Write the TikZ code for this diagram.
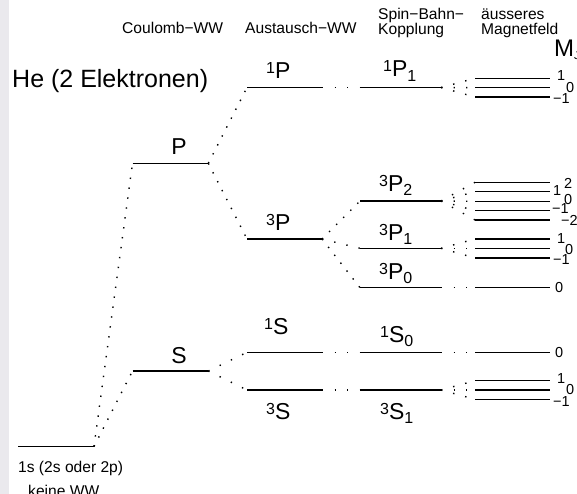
\documentclass[tikz,border=0pt]{standalone}
\usepackage{fontspec}
\setmainfont{Liberation Sans}
\definecolor{strip}{RGB}{234,233,237}
\newcommand{\fs}[1]{\fontsize{#1}{#1}\selectfont}
\newcommand{\term}[3]{\raisebox{5pt}{\fs{16}#1}{\fs{23}#2}\raisebox{-4.5pt}{\fs{16}#3}}

\begin{document}
\begin{tikzpicture}[x=1pt,y=-1pt]
\tikzstyle{every node}+=[inner sep=0pt]
\tikzstyle{lvl}=[black,line width=1.5pt]
\tikzstyle{fan}=[black,line width=1.4pt,dash pattern=on 1.4pt off 8.6pt]
\tikzstyle{tie}=[black,line width=1.4pt,dash pattern=on 1.4pt off 11.1pt]
\tikzstyle{txt}=[anchor=base west,font=\fs{15.6}]
\tikzstyle{mj}=[anchor=west,font=\fs{14.5}]
\useasboundingbox (0,0) rectangle (577,494);
\fill [strip] (0,0) rectangle (9,494);
% headings
\node [txt] (hcoul) at (122,33.5) {Coulomb−WW};
\node [txt] (haus) at (245,33.5) {Austausch−WW};
\node [txt] (hspin) at (378,19.5) {Spin−Bahn−};
\node [txt] (hkop) at (378,34.5) {Kopplung};
\node [txt] (haeu) at (481,19.5) {äusseres};
\node [txt] (hmag) at (481,34.5) {Magnetfeld};
\node [anchor=base west,font=\fs{24}] (hmj) at (554,57) {M\raisebox{-3pt}{\fs{11}J}};
\node [anchor=base west,font=\fs{25}] (title) at (12,88) {He (2 Elektronen)};
\node [txt] (cfg) at (18,472) {1s (2s oder 2p)};
\node [txt] (cfgb) at (28,496) {keine WW};
% levels
\draw [lvl] (18,446.5) coordinate (ka) -- (94,446.5) coordinate (kb);
\draw [lvl] (132.5,163.3) coordinate (Pa) -- (208.3,163.3) coordinate (Pb);
\draw [lvl] (132.5,371) coordinate (Sa) -- (208.3,371) coordinate (Sb);
\draw [lvl] (247,87.5) coordinate (P1a) -- (322,87.5) coordinate (P1b);
\draw [lvl] (247,239) coordinate (P3a) -- (322,239) coordinate (P3b);
\draw [lvl] (247,352.3) coordinate (S1a) -- (322,352.3) coordinate (S1b);
\draw [lvl] (247,390) coordinate (S3a) -- (322,390) coordinate (S3b);
\draw [lvl] (360,87.5) coordinate (P11a) -- (441,87.5) coordinate (P11b);
\draw [lvl] (360,201) coordinate (P32a) -- (441,201) coordinate (P32b);
\draw [lvl] (360,248.3) coordinate (P31a) -- (441,248.3) coordinate (P31b);
\draw [lvl] (360,287.7) coordinate (P30a) -- (441,287.7) coordinate (P30b);
\draw [lvl] (360,352.3) coordinate (S10a) -- (441,352.3) coordinate (S10b);
\draw [lvl] (360,390) coordinate (S31a) -- (441,390) coordinate (S31b);
% level labels
\node [anchor=base,font=\fs{23}] (nP) at (179,155) {P};
\node [anchor=base,font=\fs{23}] (nS) at (179,363) {S};
\node [anchor=base west] (nP1) at (266,79) {\term{1}{P}{}};
\node [anchor=base west] (nP3) at (266,230.5) {\term{3}{P}{}};
\node [anchor=base west] (nS1) at (264,334) {\term{1}{S}{}};
\node [anchor=base west] (nS3) at (266,419.5) {\term{3}{S}{}};
\node [anchor=base west] (nP11) at (383,77) {\term{1}{P}{1}};
\node [anchor=base west] (nP32) at (379,191) {\term{3}{P}{2}};
\node [anchor=base west] (nP31) at (379,240) {\term{3}{P}{1}};
\node [anchor=base west] (nP30) at (379,279) {\term{3}{P}{0}};
\node [anchor=base west] (nS10) at (380,342) {\term{1}{S}{0}};
\node [anchor=base west] (nS31) at (380,419) {\term{3}{S}{1}};
% splitting
\draw [fan] (kb) -- (Pa);
\draw [fan] (kb) -- (Sa);
\draw [fan] (Pb) -- (P1a);
\draw [fan] (Pb) -- (P3a);
\draw [tie] (Sb) -- (S1a);
\draw [tie] (Sb) -- (S3a);
\draw [fan] (P3b) -- (P32a);
\draw [tie] (P3b) -- (P31a);
\draw [fan] (P3b) -- (P30a);
\draw [tie] (P1b) -- (P11a);
\draw [tie] (S1b) -- (S10a);
\draw [tie] (S3b) -- (S31a);
% magnetic sublevels
\draw [lvl] (475,78.3) coordinate (u1) -- (550,78.3);
\draw [lvl] (475,87.7) coordinate (u0) -- (550,87.7);
\draw [lvl] (475,97) coordinate (um1) -- (550,97);
\draw [lvl] (475,182.3) coordinate (v2) -- (550,182.3);
\draw [lvl] (475,191.7) coordinate (v1) -- (550,191.7);
\draw [lvl] (475,201.3) coordinate (v0) -- (550,201.3);
\draw [lvl] (475,210.7) coordinate (vm1) -- (550,210.7);
\draw [lvl] (475,220) coordinate (vm2) -- (550,220);
\draw [lvl] (475,239) coordinate (w1) -- (550,239);
\draw [lvl] (475,248.3) coordinate (w0) -- (550,248.3);
\draw [lvl] (475,258) coordinate (wm1) -- (550,258);
\draw [lvl] (475,287.7) coordinate (x0) -- (550,287.7);
\draw [lvl] (475,352.3) coordinate (y0) -- (550,352.3);
\draw [lvl] (475,380.7) coordinate (z1) -- (550,380.7);
\draw [lvl] (475,390) coordinate (z0) -- (550,390);
\draw [lvl] (475,399.3) coordinate (zm1) -- (550,399.3);
\draw [tie] (P11b) -- (u1);
\draw [tie] (P11b) -- (u0);
\draw [tie] (P11b) -- (um1);
\draw [tie] (P32b) -- (v2);
\draw [tie] (P32b) -- (v1);
\draw [tie] (P32b) -- (v0);
\draw [tie] (P32b) -- (vm1);
\draw [tie] (P32b) -- (vm2);
\draw [tie] (P31b) -- (w1);
\draw [tie] (P31b) -- (w0);
\draw [tie] (P31b) -- (wm1);
\draw [tie] (P30b) -- (x0);
\draw [tie] (S10b) -- (y0);
\draw [tie] (S31b) -- (z1);
\draw [tie] (S31b) -- (z0);
\draw [tie] (S31b) -- (zm1);
% M_J values
\node [mj] (lu1) at (557,76) {1};
\node [mj] (lu0) at (566,88) {0};
\node [mj] (lum1) at (553,99) {−1};
\node [mj] (lv2) at (564,183) {2};
\node [mj] (lv1) at (553,191) {1};
\node [mj] (lv0) at (564,200) {0};
\node [mj] (lvm1) at (552,209) {−1};
\node [mj] (lvm2) at (561,220) {−2};
\node [mj] (lw1) at (557,239) {1};
\node [mj] (lw0) at (565,250) {0};
\node [mj] (lwm1) at (553,260) {−1};
\node [mj] (lx0) at (555,288) {0};
\node [mj] (ly0) at (555,353) {0};
\node [mj] (lz1) at (557,379) {1};
\node [mj] (lz0) at (566,390) {0};
\node [mj] (lzm1) at (553,402) {−1};
\end{tikzpicture}
\end{document}
